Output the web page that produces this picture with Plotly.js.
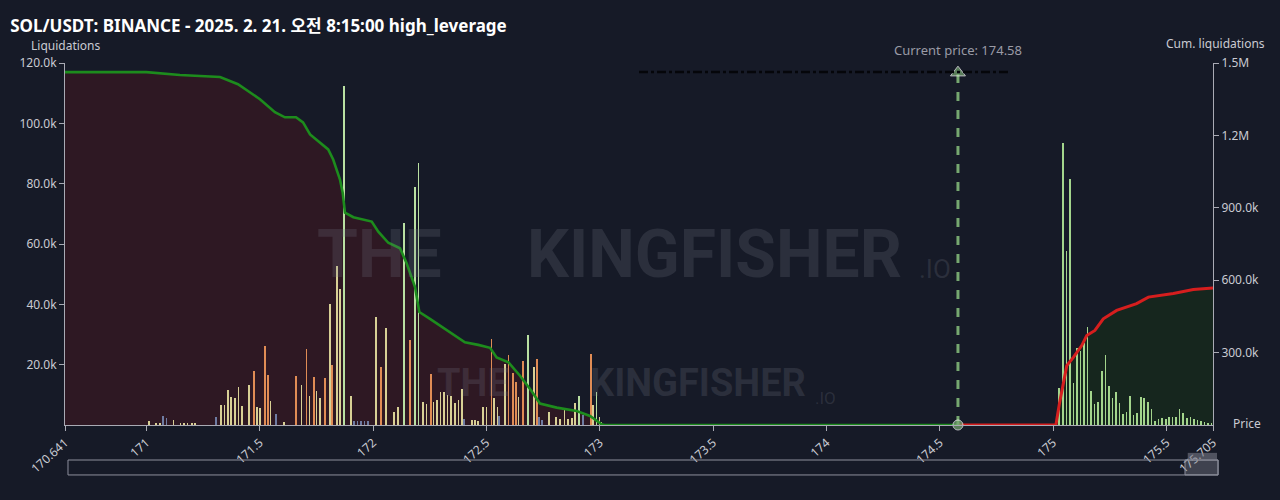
<!DOCTYPE html>
<html>
<head>
<meta charset="utf-8">
<script src="https://cdn.plot.ly/plotly-3.0.1.min.js"></script>
<style>
  html, body { margin:0; padding:0; background:#161a27; }
  #chart { width:1280px; height:500px; }
</style>
</head>
<body>
<div id="chart"></div>
<script>
// ---------------- DATA ----------------
const chartTitle = 'SOL/USDT: BINANCE - 2025. 2. 21. 오전 8:15:00 high_leverage';
const currentPrice = 174.58;
const priceMin = 170.641;
const priceMax = 175.705;

const xTickVals = [170.641, 171, 171.5, 172, 172.5, 173, 173.5, 174, 174.5, 175, 175.5, 175.705];
const xTickText = ['170.641', '171', '171.5', '172', '172.5', '173', '173.5', '174', '174.5', '175', '175.5', '175.705'];
const leftTickVals = [20000, 40000, 60000, 80000, 100000, 120000];
const leftTickText = ['20.0k', '40.0k', '60.0k', '80.0k', '100.0k', '120.0k'];
const rightTickVals = [300000, 600000, 900000, 1200000, 1500000];
const rightTickText = ['300.0k', '600.0k', '900.0k', '1.2M', '1.5M'];

// Liquidation bars below current price (by colour group)
const khakiPrice = [171.012, 171.042, 171.060, 171.120, 171.151, 171.167, 171.182, 171.200, 171.214,
  171.329, 171.344, 171.359, 171.373, 171.391, 171.407, 171.422, 171.453, 171.487, 171.501, 171.547, 171.606,
  171.684, 171.719, 171.750, 171.766, 171.809, 171.840, 171.855, 171.903, 172.013, 172.058, 172.091, 172.109,
  172.219, 172.235, 172.266, 172.282, 172.298, 172.313, 172.329, 172.344, 172.360, 172.376, 172.391,
  172.435, 172.450, 172.464, 172.486, 172.501, 172.533, 172.548, 172.582, 172.642, 172.710, 172.776,
  172.808, 172.825, 172.844, 172.861, 172.877, 172.892, 172.969, 172.998, 173.008];
const khakiVal = [1400, 800, 600, 1500, 700, 700, 800, 500, 600,
  6600, 6600, 11600, 9400, 9000, 12500, 6300, 13300, 6000, 5500, 8000, 1000,
  13300, 9600, 11300, 9000, 40000, 52800, 45000, 9600, 35900, 32000, 4400, 6000,
  7700, 7000, 7700, 8300, 10800, 10800, 9800, 9600, 7400, 8300, 11900,
  1500, 1500, 1200, 6000, 6000, 8800, 6000, 20100, 9400, 19300, 4200,
  2500, 2000, 5500, 2000, 2200, 7200, 6600, 2500, 1000];

const orangePrice = [171.475, 171.522, 171.537, 171.661, 171.707, 171.739, 171.788, 171.819, 172.036,
  172.163, 172.255, 172.523, 172.598, 172.616, 172.630, 172.661, 172.723, 172.960];
const orangeVal = [17900, 26300, 16600, 16300, 25200, 16000, 15600, 19900, 19100,
  28200, 16900, 28500, 23200, 17100, 14300, 21200, 21900, 23400];

const paleGreenPrice = [171.872, 172.136, 172.184, 172.200, 172.682, 172.907, 172.986];
const paleGreenVal = [112400, 67000, 78800, 86800, 29800, 9600, 10800];

const bluePrice = [171.072, 171.088, 171.307, 171.573, 171.916, 171.931, 171.947, 171.962, 171.978,
  172.402, 172.556, 172.732, 172.746, 172.927];
const blueVal = [3000, 2300, 2700, 3700, 1300, 1300, 1300, 1300, 1300,
  2000, 3000, 2800, 1500, 3300];

// Liquidation bars above current price
const shortPrice = [175.027, 175.042, 175.058, 175.074, 175.090, 175.105, 175.121, 175.136, 175.152, 175.167,
  175.183, 175.199, 175.215, 175.230, 175.246, 175.261, 175.277, 175.292, 175.308, 175.324, 175.340, 175.355,
  175.371, 175.387, 175.402, 175.417, 175.433, 175.449, 175.464, 175.480, 175.497, 175.512, 175.527, 175.543,
  175.558, 175.574, 175.590, 175.605, 175.621, 175.637, 175.652, 175.668, 175.684, 175.699];
const shortVal = [12400, 93600, 57700, 81600, 13800, 25600, 24600, 27100, 32400, 11400,
  6900, 7700, 18000, 23200, 13000, 8800, 10800, 7200, 3600, 4400, 9700, 3300,
  3900, 9400, 8800, 7700, 5200, 1300, 1900, 2200, 2100, 2800, 2500, 2500,
  5200, 3900, 2200, 2500, 1900, 1700, 1300, 900, 600, 600];

// Cumulative liquidations (right axis)
const cumLongPrice = [170.641, 171.0, 171.148, 171.325, 171.404, 171.501, 171.567, 171.611, 171.660, 171.691,
  171.722, 171.766, 171.802, 171.824, 171.854, 171.866, 171.876, 171.913, 171.994, 172.023, 172.067, 172.119,
  172.148, 172.185, 172.204, 172.251, 172.325, 172.405, 172.464, 172.516, 172.545, 172.597, 172.648, 172.698,
  172.736, 172.810, 172.898, 172.957, 173.008, 173.020, 174.58];
const cumLongVal = [1462000, 1462000, 1450000, 1442000, 1412000, 1350000, 1296000, 1275000, 1275000, 1254000,
  1204000, 1170000, 1142000, 1100000, 1017000, 962000, 880000, 861000, 843000, 801000, 755000, 732000,
  670000, 572000, 468000, 440000, 395000, 343000, 332000, 320000, 280000, 260000, 204000, 142000,
  89000, 72000, 58000, 37500, 3000, 0, 0];

const cumShortPrice = [174.58, 175.012, 175.027, 175.045, 175.060, 175.089, 175.126, 175.148, 175.184, 175.221,
  175.280, 175.368, 175.420, 175.530, 175.618, 175.705];
const cumShortVal = [0, 0, 86000, 170000, 246000, 280000, 329000, 371000, 392000, 440000,
  475000, 503000, 530000, 545000, 561000, 568000];

// ---------------- STYLE ----------------
const BG = '#161a27';
const FONT = '"Noto Sans", "Open Sans", "Noto Sans CJK KR", sans-serif';
const WMFONT = 'Roboto, "Liberation Sans", sans-serif';
const TXT = '#c9cad2';
const AX = '#a9aab4';
const BARW = 0.0072;

function bars(x, y, color) {
  return { type: 'bar', x: x, y: y, yaxis: 'y2', width: BARW,
    marker: { color: color, line: { width: 0 } }, hoverinfo: 'skip' };
}

const traces = [
  // fills (primary axis, drawn beneath the bars)
  { type: 'scatter', mode: 'lines', x: cumLongPrice, y: cumLongVal, yaxis: 'y',
    fill: 'tozeroy', fillcolor: '#2e1823', line: { width: 0, color: 'rgba(0,0,0,0)' }, hoverinfo: 'skip' },
  { type: 'scatter', mode: 'lines', x: cumShortPrice, y: cumShortVal, yaxis: 'y',
    fill: 'tozeroy', fillcolor: '#16261e', line: { width: 0, color: 'rgba(0,0,0,0)' }, hoverinfo: 'skip' },
  // bars
  bars(khakiPrice, khakiVal, '#d8d095'),
  bars(orangePrice, orangeVal, '#e08c55'),
  bars(paleGreenPrice, paleGreenVal, '#b9e0a2'),
  bars(bluePrice, blueVal, '#6f7ca3'),
  bars(shortPrice, shortVal, '#a3d58c'),
  // cumulative lines on top
  { type: 'scatter', mode: 'lines', x: cumLongPrice, y: cumLongVal, yaxis: 'y3',
    line: { color: '#1d8c1d', width: 2.6 }, hoverinfo: 'skip' },
  { type: 'scatter', mode: 'lines', x: cumShortPrice, y: cumShortVal, yaxis: 'y3',
    line: { color: '#d61e1e', width: 3 }, hoverinfo: 'skip' },
  // current price marker
  { type: 'scatter', mode: 'lines+markers', x: [currentPrice, currentPrice], y: [0, 1460000], yaxis: 'y3',
    line: { color: '#76a870', width: 3, dash: 'dash' },
    marker: { symbol: ['circle', 'triangle-up'], size: [10, 13], color: '#76a870' },
    cliponaxis: false, hoverinfo: 'skip' }
];

const wmColor = 'rgba(120,122,138,0.22)';
const layout = {
  width: 1280, height: 500,
  paper_bgcolor: BG, plot_bgcolor: BG,
  margin: { l: 65, r: 67, t: 63, b: 75 },
  showlegend: false,
  barmode: 'overlay',
  bargap: 0,
  font: { family: FONT, color: TXT, size: 12 },
  title: { text: '<b>' + chartTitle + '</b>', xref: 'container', yref: 'container',
    x: 0.008, xanchor: 'left', y: 0.948, yanchor: 'middle',
    font: { family: FONT, size: 17, color: '#ffffff' } },
  xaxis: {
    range: [priceMin, priceMax], tickvals: xTickVals, ticktext: xTickText, tickangle: -42,
    showgrid: false, zeroline: false, showline: true, linecolor: AX, linewidth: 1,
    ticks: 'outside', ticklen: 5, tickcolor: AX, tickfont: { size: 12, color: TXT }
  },
  yaxis: {
    range: [0, 1500000], side: 'right', tickvals: rightTickVals, ticktext: rightTickText,
    showgrid: false, zeroline: false, showline: true, linecolor: AX, linewidth: 1,
    ticks: 'outside', ticklen: 5, tickcolor: AX, tickfont: { size: 12, color: TXT }
  },
  yaxis2: {
    range: [0, 120000], overlaying: 'y', side: 'left', tickvals: leftTickVals, ticktext: leftTickText,
    showgrid: false, zeroline: false, showline: true, linecolor: AX, linewidth: 1,
    ticks: 'outside', ticklen: 5, tickcolor: AX, tickfont: { size: 12, color: TXT }
  },
  yaxis3: { range: [0, 1500000], overlaying: 'y', visible: false },
  annotations: [
    { text: 'Liquidations', xref: 'paper', yref: 'paper', x: 0, y: 1.048, xanchor: 'center', yanchor: 'middle',
      showarrow: false, font: { size: 12, color: TXT } },
    { text: 'Cum. liquidations', xref: 'paper', yref: 'paper', x: 1.002, y: 1.055, xanchor: 'center', yanchor: 'middle',
      showarrow: false, font: { size: 12, color: TXT } },
    { text: 'Price', xref: 'paper', yref: 'paper', x: 1.0155, y: 0.003, xanchor: 'left', yanchor: 'middle',
      showarrow: false, font: { size: 12, color: TXT } },
    { text: 'Current price: ' + currentPrice, xref: 'x', yref: 'paper', x: currentPrice, y: 1.035,
      xanchor: 'center', yanchor: 'middle', showarrow: false, font: { size: 13, color: '#9a9ba6' } },
    // watermark
    { text: '<b>THE</b>', xref: 'paper', yref: 'paper', x: 0.274, y: 0.47, xanchor: 'center', yanchor: 'middle',
      showarrow: false, font: { size: 66, color: wmColor, family: WMFONT } },
    { text: '<b>KINGFISHER</b>', xref: 'paper', yref: 'paper', x: 0.566, y: 0.47, xanchor: 'center', yanchor: 'middle',
      showarrow: false, font: { size: 66, color: wmColor, family: WMFONT } },
    { text: '.IO', xref: 'paper', yref: 'paper', x: 0.742, y: 0.43, xanchor: 'left', yanchor: 'middle',
      showarrow: false, font: { size: 26, color: wmColor, family: WMFONT } },
    { text: '<b>THE</b>', xref: 'paper', yref: 'paper', x: 0.355, y: 0.115, xanchor: 'center', yanchor: 'middle',
      showarrow: false, font: { size: 38, color: wmColor, family: WMFONT } },
    { text: '<b>KINGFISHER</b>', xref: 'paper', yref: 'paper', x: 0.551, y: 0.115, xanchor: 'center', yanchor: 'middle',
      showarrow: false, font: { size: 38, color: wmColor, family: WMFONT } },
    { text: '.IO', xref: 'paper', yref: 'paper', x: 0.652, y: 0.075, xanchor: 'left', yanchor: 'middle',
      showarrow: false, font: { size: 17, color: wmColor, family: WMFONT } }
  ],
  shapes: [
    // faint dashed artifact near the top
    { type: 'line', xref: 'paper', yref: 'paper', x0: 0.5, x1: 0.823, y0: 0.975, y1: 0.975,
      line: { color: '#05060a', width: 2.5, dash: 'dashdot' } },
    // range slider look-alike
    { type: 'rect', xref: 'paper', yref: 'paper', x0: 0.0026, x1: 1.0044, y0: -0.138, y1: -0.0967,
      line: { color: '#8d8f9c', width: 1 }, fillcolor: 'rgba(0,0,0,0)' },
    { type: 'rect', xref: 'paper', yref: 'paper', x0: 0.9756, x1: 1.0044, y0: -0.138, y1: -0.0967,
      line: { color: '#8d8f9c', width: 1 }, fillcolor: 'rgba(140,142,155,0.35)' },
    { type: 'rect', xref: 'paper', yref: 'paper', x0: 0.978, x1: 1.0035, y0: -0.0967, y1: -0.077,
      line: { width: 0 }, fillcolor: 'rgba(120,122,135,0.6)' }
  ]
};

Plotly.newPlot('chart', traces, layout, { displayModeBar: false, staticPlot: true });
</script>
</body>
</html>
